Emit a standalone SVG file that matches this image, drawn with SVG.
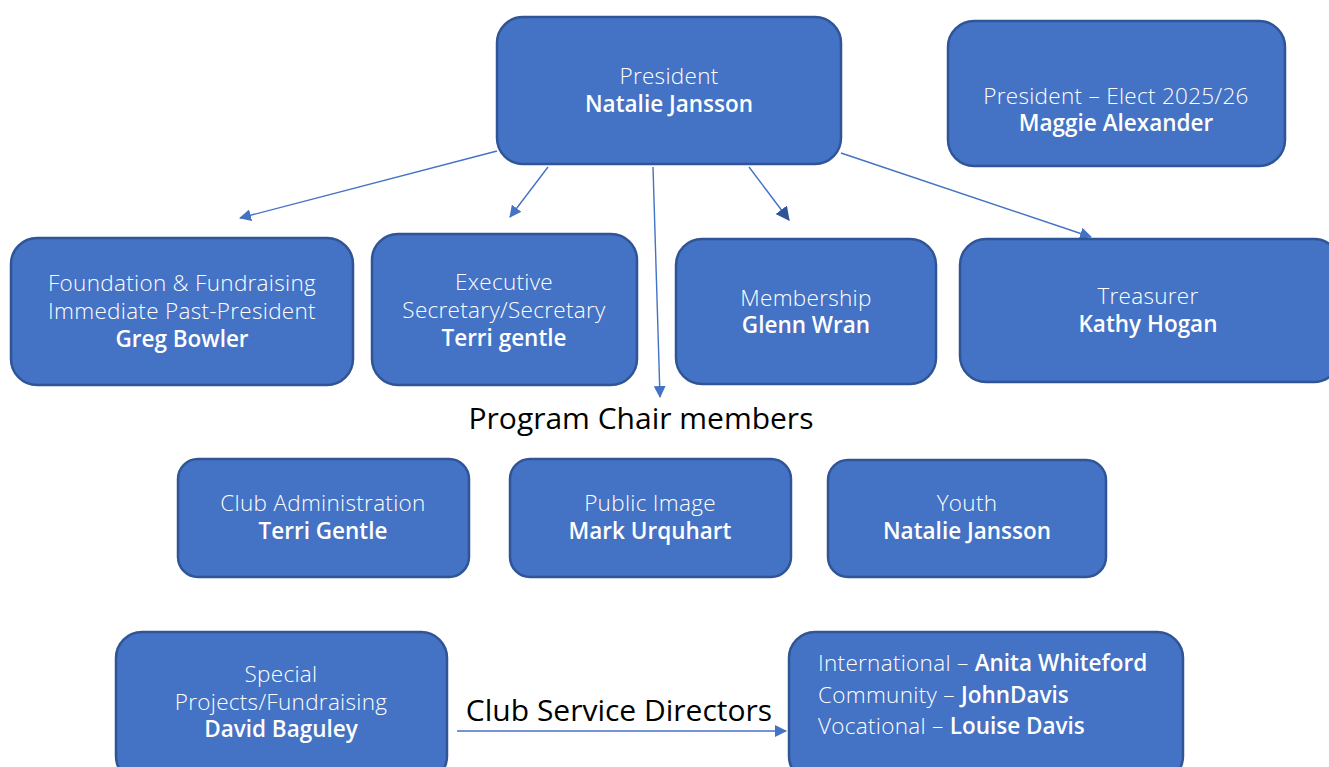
<svg xmlns="http://www.w3.org/2000/svg" width="1329" height="767" viewBox="0 0 1329 767">
<defs>
<style>
.box{fill:#4472C4;stroke:#2F5597;stroke-width:2.5}
.t{font-family:"Open Sans","Noto Sans",sans-serif;font-size:22.5px;fill:#ffffff;text-anchor:middle;font-weight:300;letter-spacing:0.3px}
.l{font-family:"Open Sans","Noto Sans",sans-serif;font-size:22.5px;fill:#ffffff;text-anchor:start;font-weight:300;letter-spacing:0.3px}
.b{font-weight:600;letter-spacing:0}
.h{font-family:"Open Sans","Noto Sans",sans-serif;font-size:30px;fill:#000000;text-anchor:middle}
.c{stroke:#4472C4;stroke-width:1.4;fill:none}
</style>
<marker id="ah" viewBox="0 0 12 12" refX="11" refY="6" markerWidth="12" markerHeight="12" markerUnits="userSpaceOnUse" orient="auto">
<path d="M0,0 L12,6 L0,12 Z" fill="#4472C4"/>
</marker>
<marker id="ahd" viewBox="0 0 12 12" refX="11" refY="6" markerWidth="14" markerHeight="14" markerUnits="userSpaceOnUse" orient="auto">
<path d="M0,0 L12,6 L0,12 Z" fill="#2F5597"/>
</marker>
</defs>
<rect width="1329" height="767" fill="#ffffff"/>
<g id="connectors">
<line class="c" x1="497" y1="151" x2="240" y2="218" marker-end="url(#ah)"/>
<line class="c" x1="548" y1="167" x2="510" y2="217" marker-end="url(#ah)"/>
<line class="c" x1="653" y1="167" x2="660" y2="397" marker-end="url(#ah)"/>
<line class="c" x1="749" y1="167" x2="789" y2="220" stroke="#2F5597" marker-end="url(#ahd)"/>
<line class="c" x1="841" y1="153" x2="1091" y2="237" marker-end="url(#ah)"/>
<line class="c" x1="457" y1="731" x2="786" y2="731" marker-end="url(#ah)"/>
</g>
<g id="president">
<rect class="box" x="497" y="17" width="344" height="147" rx="26"/>
<text class="t" x="669" y="84">President</text>
<text class="t b" x="669" y="112">Natalie Jansson</text>
</g>
<g id="president-elect">
<rect class="box" x="948" y="21" width="337" height="145" rx="26"/>
<text class="t" x="1116" y="104">President – Elect 2025/26</text>
<text class="t b" x="1116" y="131">Maggie Alexander</text>
</g>
<g id="foundation">
<rect class="box" x="11" y="238" width="342" height="147" rx="26"/>
<text class="t" x="182" y="291">Foundation &amp; Fundraising</text>
<text class="t" x="182" y="319">Immediate Past-President</text>
<text class="t b" x="182" y="347">Greg Bowler</text>
</g>
<g id="executive">
<rect class="box" x="372" y="234" width="265" height="151" rx="26"/>
<text class="t" x="504" y="290">Executive</text>
<text class="t" x="504" y="318">Secretary/Secretary</text>
<text class="t b" x="504" y="346">Terri gentle</text>
</g>
<g id="membership">
<rect class="box" x="676" y="239" width="260" height="145" rx="26"/>
<text class="t" x="806" y="306">Membership</text>
<text class="t b" x="806" y="333">Glenn Wran</text>
</g>
<g id="treasurer">
<rect class="box" x="960" y="239" width="380" height="143" rx="26"/>
<text class="t" x="1148" y="304">Treasurer</text>
<text class="t b" x="1148" y="332">Kathy Hogan</text>
</g>
<g id="program-chair-label">
<text class="h" x="641" y="429">Program Chair members</text>
</g>
<g id="club-administration">
<rect class="box" x="178" y="459" width="291" height="118" rx="20"/>
<text class="t" x="323" y="511">Club Administration</text>
<text class="t b" x="323" y="539">Terri Gentle</text>
</g>
<g id="public-image">
<rect class="box" x="510" y="459" width="281" height="118" rx="20"/>
<text class="t" x="650" y="511">Public Image</text>
<text class="t b" x="650" y="539">Mark Urquhart</text>
</g>
<g id="youth">
<rect class="box" x="828" y="460" width="278" height="117" rx="20"/>
<text class="t" x="967" y="511">Youth</text>
<text class="t b" x="967" y="539">Natalie Jansson</text>
</g>
<g id="special-projects">
<rect class="box" x="116" y="632" width="331" height="150" rx="26"/>
<text class="t" x="281" y="682">Special</text>
<text class="t" x="281" y="710">Projects/Fundraising</text>
<text class="t b" x="281" y="737">David Baguley</text>
</g>
<g id="club-service-label">
<text class="h" x="619" y="721">Club Service Directors</text>
</g>
<g id="service-directors">
<rect class="box" x="789" y="632" width="394" height="150" rx="26"/>
<text class="l" x="818" y="671">International – <tspan class="b">Anita Whiteford</tspan></text>
<text class="l" x="818" y="703">Community – <tspan class="b">JohnDavis</tspan></text>
<text class="l" x="818" y="734">Vocational – <tspan class="b">Louise Davis</tspan></text>
</g>
</svg>
